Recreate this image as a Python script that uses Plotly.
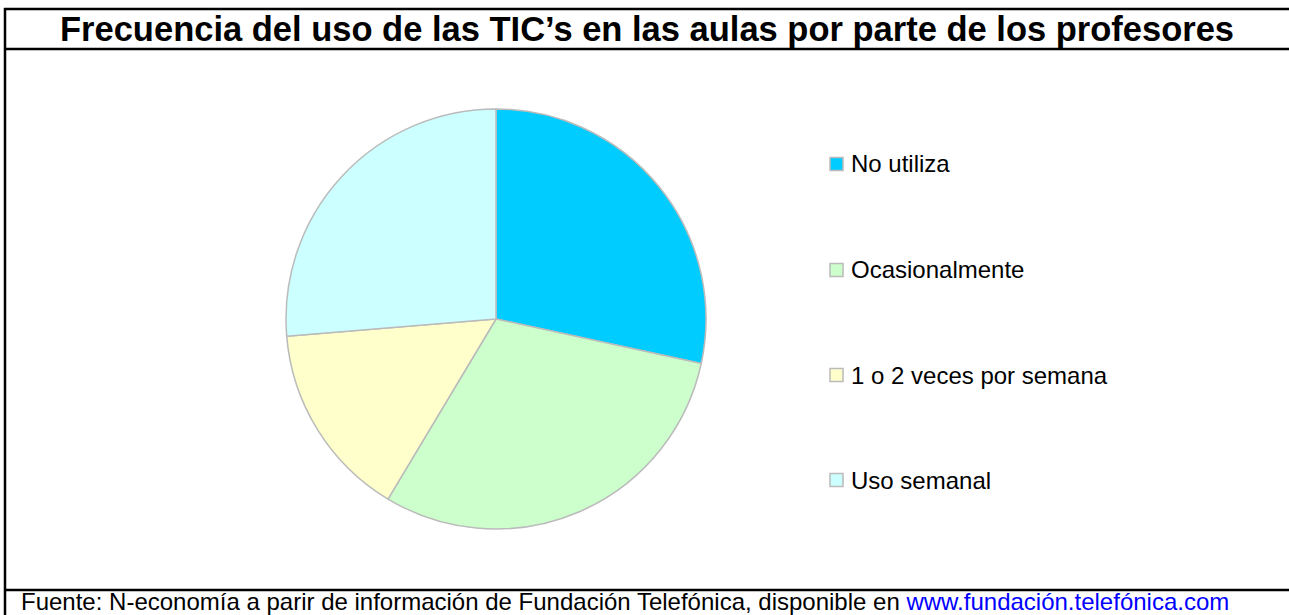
import plotly.graph_objects as go

W, H = 1289, 615

title_text = "Frecuencia del uso de las TIC’s en las aulas por parte de los profesores"
categories = ["No utiliza", "Ocasionalmente", "1 o 2 veces por semana", "Uso semanal"]
values = [28.4, 30.2, 15.1, 26.3]
colors = ["#00CCFF", "#CCFFCC", "#FFFFCC", "#CCFFFF"]
footer_text = "Fuente: N-economía a parir de información de Fundación Telefónica, disponible en "
footer_link = "www.fundación.telefónica.com"

FONT = "Liberation Sans, Arial, sans-serif"

def px_x(x):
    return x / W

def px_y(y):
    return 1 - y / H

fig = go.Figure()

cx, cy, r = 496, 319, 210
fig.add_trace(go.Pie(
    labels=categories,
    values=values,
    marker=dict(colors=colors, line=dict(color="#BBBBBB", width=1.5)),
    sort=False,
    direction="clockwise",
    rotation=0,
    textinfo="none",
    hoverinfo="label+percent",
    showlegend=False,
    domain=dict(x=[px_x(cx - r), px_x(cx + r)], y=[px_y(cy + r), px_y(cy - r)]),
))

shapes = []
line_style = dict(color="black", width=2.5)
# frame lines
for y in (9, 49, 590):
    shapes.append(dict(type="line", xref="paper", yref="paper",
                       x0=px_x(4), x1=1, y0=px_y(y), y1=px_y(y), line=line_style))
shapes.append(dict(type="line", xref="paper", yref="paper",
                   x0=px_x(5), x1=px_x(5), y0=px_y(8), y1=0, line=line_style))

annotations = []
annotations.append(dict(text="<b>" + title_text + "</b>", xref="paper", yref="paper",
                        x=px_x(647), y=px_y(29), xanchor="center", yanchor="middle",
                        showarrow=False, font=dict(family=FONT, size=34.5, color="black")))

# legend (manual)
leg_y = [164, 270, 375, 480]
for cat, col, ly in zip(categories, colors, leg_y):
    shapes.append(dict(type="rect", xref="paper", yref="paper",
                       x0=px_x(830), x1=px_x(843), y0=px_y(ly + 6.5), y1=px_y(ly - 6.5),
                       fillcolor=col, line=dict(color="#BBBBBB", width=1.5)))
    annotations.append(dict(text=cat, xref="paper", yref="paper",
                            x=px_x(849), y=px_y(ly), xanchor="left", yanchor="middle",
                            showarrow=False, font=dict(family=FONT, size=24, color="black")))

annotations.append(dict(
    text=footer_text + "<span style='color:#0000FF'>" + footer_link + "</span>",
    xref="paper", yref="paper", x=px_x(19), y=px_y(601), xanchor="left", yanchor="middle",
    showarrow=False, font=dict(family=FONT, size=24, color="black")))

fig.update_layout(
    width=W, height=H,
    margin=dict(l=0, r=0, t=0, b=0),
    paper_bgcolor="white", plot_bgcolor="white",
    shapes=shapes, annotations=annotations,
    showlegend=False,
)

fig.write_html("out.html", config={"displayModeBar": False},
               post_script="document.body.style.margin='0px';document.body.style.overflow='hidden';")
